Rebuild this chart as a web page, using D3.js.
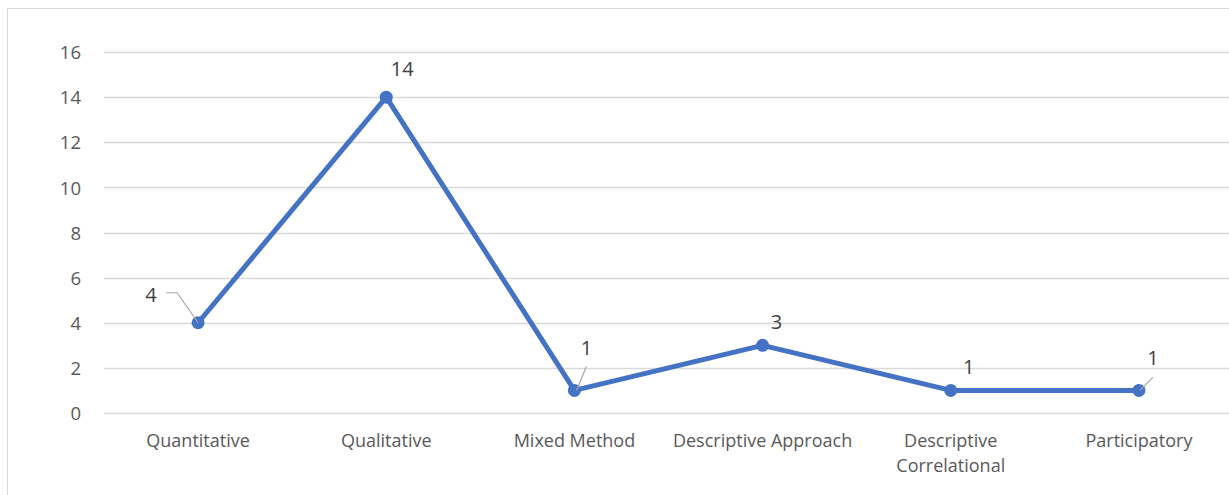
<!DOCTYPE html>
<html>
<head>
<meta charset="utf-8">
<script src="https://cdn.jsdelivr.net/npm/d3@7"></script>
<style>
  html, body { margin: 0; padding: 0; background: #fff; }
  svg { display: block; }
</style>
</head>
<body>
<svg id="chart" width="1229" height="495"></svg>
<script>
// Research designs and how many studies used each
const categories = ["Quantitative", "Qualitative", "Mixed Method", "Descriptive Approach", "Descriptive Correlational", "Participatory"];
const counts = [4, 14, 1, 3, 1, 1];
const yTicks = [0, 2, 4, 6, 8, 10, 12, 14, 16];

// Where each value label sits relative to its point, and whether it gets a leader line
const labelLayout = [
  { dx: -47, dy: -21, leader: [[-32, -30], [-21, -30], [0, 0]] },
  { dx: 16, dy: -21 },
  { dx: 12, dy: -35, leader: [[12, -24], [2, 0]] },
  { dx: 14, dy: -16 },
  { dx: 18, dy: -16 },
  { dx: 14, dy: -25, leader: [[14, -13], [1, 0]] }
];

const svg = d3.select("#chart");
const font = "'Open Sans', 'Liberation Sans', sans-serif";

const margin = { left: 104, right: -4, top: 52, bottom: 82 };
const width = 1229, height = 495;

// Chart frame (extends past the right and bottom edges)
svg.append("rect")
  .attr("x", 7.5).attr("y", 8.5)
  .attr("width", 1240).attr("height", 500)
  .attr("fill", "#fff").attr("stroke", "#d9d9d9").attr("stroke-width", 1);

const x = d3.scaleBand()
  .domain(categories)
  .range([margin.left, width - margin.right])
  .paddingInner(0).paddingOuter(0);

const y = d3.scaleLinear()
  .domain([0, 16])
  .range([height - margin.bottom, margin.top]);

// Horizontal gridlines
svg.append("g")
  .selectAll("line")
  .data(yTicks)
  .join("line")
  .attr("x1", margin.left)
  .attr("x2", width - margin.right)
  .attr("y1", d => Math.round(y(d)) + 0.5)
  .attr("y2", d => Math.round(y(d)) + 0.5)
  .attr("stroke", "#d9d9d9")
  .attr("stroke-width", 1.5);

// Y axis labels
const yAxis = d3.axisLeft(y).tickValues(yTicks).tickSize(0).tickPadding(0);
const yg = svg.append("g")
  .attr("transform", `translate(${margin.left - 23},0)`)
  .call(yAxis);
yg.select(".domain").remove();
yg.selectAll("text")
  .attr("fill", "#595959")
  .style("font-family", font)
  .style("font-size", "18.5px")
  .attr("dy", "0.36em");

// X axis labels, wrapped to fit each band
const xg = svg.append("g")
  .attr("transform", `translate(0,${y(0)})`)
  .call(d3.axisBottom(x).tickSize(0).tickPadding(0));
xg.select(".domain").remove();
xg.selectAll("text").remove();
const maxLabelWidth = x.bandwidth() - 8;
xg.selectAll(".tick").each(function (d) {
  const t = d3.select(this).append("text")
    .attr("fill", "#595959")
    .attr("text-anchor", "middle")
    .style("font-family", font)
    .style("font-size", "18px");
  const words = d.split(" ");
  let line = [];
  let lineNo = 0;
  let tspan = t.append("tspan").attr("x", 0).attr("y", 34);
  words.forEach(w => {
    line.push(w);
    tspan.text(line.join(" "));
    if (tspan.node().getComputedTextLength() > maxLabelWidth && line.length > 1) {
      line.pop();
      tspan.text(line.join(" "));
      line = [w];
      lineNo += 1;
      tspan = t.append("tspan").attr("x", 0).attr("y", 34 + lineNo * 25).text(w);
    }
  });
});

const points = categories.map((c, i) => ({ c, v: counts[i], i }));
const cx = d => x(d.c) + x.bandwidth() / 2;

// Series line
svg.append("path")
  .datum(points)
  .attr("fill", "none")
  .attr("stroke", "#4472c4")
  .attr("stroke-width", 5)
  .attr("stroke-linejoin", "round")
  .attr("d", d3.line().x(cx).y(d => y(d.v)));

// Markers
svg.append("g")
  .selectAll("circle")
  .data(points)
  .join("circle")
  .attr("cx", cx)
  .attr("cy", d => y(d.v))
  .attr("r", 6.5)
  .attr("fill", "#4472c4");

// Leader lines
svg.append("g")
  .selectAll("polyline")
  .data(points.filter(d => labelLayout[d.i].leader))
  .join("polyline")
  .attr("points", d => labelLayout[d.i].leader
    .map(([dx, dy]) => `${cx(d) + dx},${y(d.v) + dy}`).join(" "))
  .attr("fill", "none")
  .attr("stroke", "#a6a6a6")
  .attr("stroke-width", 1.2);

// Value labels
svg.append("g")
  .selectAll("text")
  .data(points)
  .join("text")
  .attr("x", d => cx(d) + labelLayout[d.i].dx)
  .attr("y", d => y(d.v) + labelLayout[d.i].dy)
  .attr("text-anchor", "middle")
  .attr("fill", "#404040")
  .style("font-family", font)
  .style("font-size", "20px")
  .text(d => d.v);
</script>
</body>
</html>
